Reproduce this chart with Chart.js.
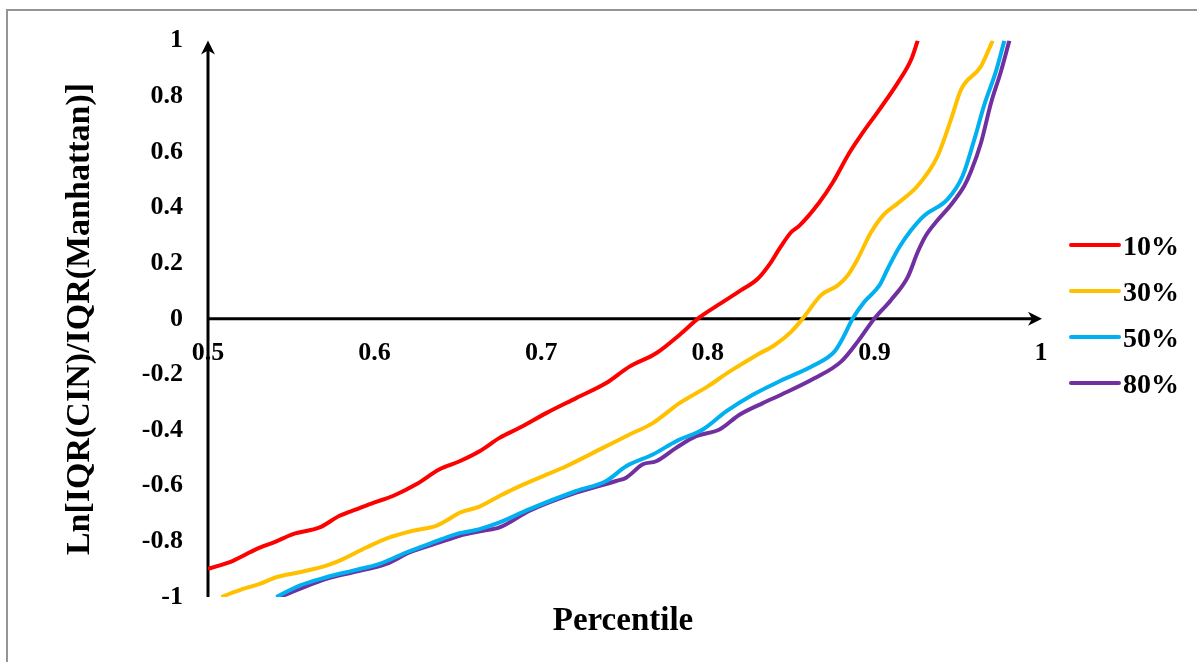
<!DOCTYPE html>
<html>
<head>
<meta charset="utf-8">
<script src="https://cdn.jsdelivr.net/npm/chart.js@4.4.1/dist/chart.umd.min.js"></script>
<style>
  html, body { margin: 0; padding: 0; background: #fff; }
  canvas { display: block; }
</style>
</head>
<body>
<canvas id="chart" width="1197" height="662"></canvas>
<script>
// Tick labels
const xTickLabels = ['0.5', '0.6', '0.7', '0.8', '0.9', '1'];
const yTickLabels = ['-1', '-0.8', '-0.6', '-0.4', '-0.2', '0', '0.2', '0.4', '0.6', '0.8', '1'];

// Series names
const seriesNames = ['10%', '30%', '50%', '80%'];

// 10%
const x10 = [0.500, 0.515, 0.529, 0.541, 0.551, 0.567, 0.579, 0.589, 0.600, 0.611, 0.625, 0.639, 0.651, 0.663, 0.675, 0.687, 0.703, 0.721, 0.739, 0.753, 0.769, 0.783, 0.795, 0.806, 0.820, 0.830, 0.838, 0.843, 0.850, 0.855, 0.867, 0.875, 0.885, 0.893, 0.903, 0.914, 0.922, 0.926];
const y10 = [-0.899, -0.870, -0.828, -0.800, -0.774, -0.750, -0.708, -0.685, -0.660, -0.637, -0.595, -0.541, -0.512, -0.476, -0.428, -0.392, -0.339, -0.285, -0.231, -0.172, -0.124, -0.058, 0.005, 0.049, 0.103, 0.144, 0.204, 0.252, 0.311, 0.335, 0.419, 0.490, 0.597, 0.669, 0.752, 0.848, 0.931, 1.000];

// 30%
const x30 = [0.508, 0.521, 0.531, 0.541, 0.555, 0.571, 0.579, 0.595, 0.609, 0.623, 0.637, 0.643, 0.651, 0.663, 0.675, 0.683, 0.699, 0.715, 0.737, 0.753, 0.767, 0.783, 0.800, 0.813, 0.830, 0.840, 0.850, 0.857, 0.868, 0.878, 0.884, 0.890, 0.898, 0.906, 0.914, 0.926, 0.938, 0.946, 0.952, 0.964, 0.971];
const y30 = [-1.000, -0.971, -0.953, -0.929, -0.911, -0.887, -0.869, -0.822, -0.786, -0.762, -0.744, -0.726, -0.697, -0.675, -0.637, -0.613, -0.571, -0.530, -0.464, -0.416, -0.375, -0.303, -0.243, -0.190, -0.128, -0.095, -0.047, 0.001, 0.085, 0.120, 0.156, 0.216, 0.311, 0.377, 0.415, 0.478, 0.586, 0.717, 0.824, 0.908, 1.000];

// 50%
const x50 = [0.541, 0.555, 0.571, 0.587, 0.603, 0.619, 0.635, 0.649, 0.663, 0.675, 0.693, 0.721, 0.739, 0.751, 0.767, 0.781, 0.797, 0.811, 0.827, 0.844, 0.864, 0.876, 0.881, 0.887, 0.894, 0.903, 0.908, 0.915, 0.922, 0.930, 0.944, 0.953, 0.960, 0.966, 0.973, 0.978];
const y50 = [-1.000, -0.959, -0.929, -0.905, -0.881, -0.840, -0.804, -0.774, -0.756, -0.732, -0.684, -0.619, -0.583, -0.530, -0.488, -0.440, -0.398, -0.333, -0.273, -0.222, -0.166, -0.118, -0.070, 0.001, 0.061, 0.120, 0.180, 0.258, 0.318, 0.371, 0.430, 0.514, 0.645, 0.770, 0.890, 1.000];

// 80%
const x80 = [0.543, 0.555, 0.571, 0.587, 0.607, 0.621, 0.639, 0.651, 0.665, 0.675, 0.693, 0.721, 0.745, 0.751, 0.761, 0.769, 0.781, 0.793, 0.807, 0.819, 0.833, 0.844, 0.864, 0.880, 0.890, 0.900, 0.910, 0.920, 0.926, 0.931, 0.938, 0.946, 0.954, 0.958, 0.964, 0.970, 0.976, 0.981];
const y80 = [-1.000, -0.971, -0.935, -0.911, -0.881, -0.840, -0.804, -0.780, -0.762, -0.750, -0.690, -0.625, -0.583, -0.571, -0.523, -0.512, -0.464, -0.422, -0.398, -0.345, -0.303, -0.273, -0.214, -0.154, -0.082, 0.001, 0.068, 0.150, 0.240, 0.300, 0.355, 0.410, 0.478, 0.530, 0.633, 0.776, 0.890, 1.000];

const seriesColors = ['#FF0000', '#FFC000', '#00B0F0', '#7030A0'];
const seriesX = [x10, x30, x50, x80];
const seriesY = [y10, y30, y50, y80];

const FONT = '"Liberation Serif", "Times New Roman", serif';

const datasets = seriesNames.map((name, k) => ({
  label: name,
  data: seriesX[k].map((x, i) => ({ x: x, y: seriesY[k][i] })),
  showLine: true,
  borderColor: seriesColors[k],
  backgroundColor: seriesColors[k],
  borderWidth: 4,
  pointRadius: 0,
  cubicInterpolationMode: 'monotone',
  fill: false
}));

// White page with a grey frame line along the top and left
const framePlugin = {
  id: 'frame',
  beforeDraw(chart) {
    const c = chart.ctx;
    c.save();
    c.fillStyle = '#ffffff';
    c.fillRect(0, 0, chart.width, chart.height);
    c.strokeStyle = '#959595';
    c.lineWidth = 2;
    c.beginPath();
    c.moveTo(7, chart.height);
    c.lineTo(7, 10);
    c.lineTo(chart.width, 10);
    c.stroke();
    c.restore();
  }
};

function arrowHead(c, tx, ty, dir) {
  // dir: 'up' or 'right'
  c.beginPath();
  if (dir === 'up') {
    c.moveTo(tx, ty);
    c.lineTo(tx + 7, ty + 14);
    c.lineTo(tx, ty + 10);
    c.lineTo(tx - 7, ty + 14);
  } else {
    c.moveTo(tx, ty);
    c.lineTo(tx - 14, ty - 7);
    c.lineTo(tx - 10, ty);
    c.lineTo(tx - 14, ty + 7);
  }
  c.closePath();
  c.fill();
}

// Axis lines crossing at (0.5, 0) with arrowheads
const axesPlugin = {
  id: 'arrowAxes',
  beforeDatasetsDraw(chart) {
    const c = chart.ctx;
    const xs = chart.scales.x, ys = chart.scales.y;
    const x0 = xs.getPixelForValue(0.5);
    const x1 = xs.getPixelForValue(1);
    const yZero = ys.getPixelForValue(0);
    const yBottom = ys.getPixelForValue(-1);
    const yTop = ys.getPixelForValue(1);
    c.save();
    c.strokeStyle = '#000';
    c.fillStyle = '#000';
    c.lineWidth = 3;
    c.beginPath();
    c.moveTo(x0, yBottom);
    c.lineTo(x0, yTop + 9);
    c.stroke();
    c.beginPath();
    c.moveTo(x0, yZero);
    c.lineTo(x1 - 9, yZero);
    c.stroke();
    arrowHead(c, x0, yTop, 'up');
    arrowHead(c, x1 + 1, yZero, 'right');
    c.restore();
  }
};

// Axis titles and legend
const textPlugin = {
  id: 'titlesLegend',
  afterDraw(chart) {
    const c = chart.ctx;
    c.save();
    c.fillStyle = '#000';
    c.textAlign = 'center';
    c.textBaseline = 'alphabetic';
    c.font = 'bold 33px ' + FONT;
    c.fillText('Percentile', 623, 630);
    c.font = 'bold 34px ' + FONT;
    c.translate(89, 319);
    c.rotate(-Math.PI / 2);
    c.fillText('Ln[IQR(CIN)/IQR(Manhattan)]', 0, 0);
    c.restore();

    c.save();
    c.font = 'bold 28px ' + FONT;
    c.textAlign = 'left';
    c.textBaseline = 'alphabetic';
    chart.data.datasets.forEach((ds, i) => {
      const y = 245 + i * 46;
      c.strokeStyle = ds.borderColor;
      c.lineWidth = 4;
      c.lineCap = 'round';
      c.beginPath();
      c.moveTo(1071, y);
      c.lineTo(1119, y);
      c.stroke();
      c.fillStyle = '#000';
      c.fillText(ds.label, 1123, y + 10);
    });
    c.restore();
  }
};

const tickFont = { family: FONT, size: 26, weight: 'bold' };

new Chart(document.getElementById('chart'), {
  type: 'scatter',
  data: { datasets: datasets },
  options: {
    responsive: false,
    animation: false,
    devicePixelRatio: 1,
    layout: { padding: { left: 0, right: 156, top: 38, bottom: 65 } },
    plugins: {
      legend: { display: false },
      tooltip: { enabled: false }
    },
    scales: {
      x: {
        type: 'linear',
        min: 0.5,
        max: 1,
        position: { y: 0 },
        grid: { display: false, drawTicks: false },
        border: { display: false },
        ticks: {
          stepSize: 0.1,
          padding: 19,
          color: '#000',
          font: tickFont,
          maxRotation: 0,
          autoSkip: false,
          callback: (v, i) => xTickLabels[i]
        }
      },
      y: {
        type: 'linear',
        min: -1,
        max: 1,
        position: 'left',
        grid: { display: false, drawTicks: false },
        border: { display: false },
        ticks: {
          stepSize: 0.2,
          padding: 25,
          color: '#000',
          font: tickFont,
          autoSkip: false,
          callback: (v, i) => yTickLabels[i]
        },
        afterFit: (scale) => { scale.width = 208; }
      }
    }
  },
  plugins: [framePlugin, axesPlugin, textPlugin]
});
</script>
</body>
</html>
